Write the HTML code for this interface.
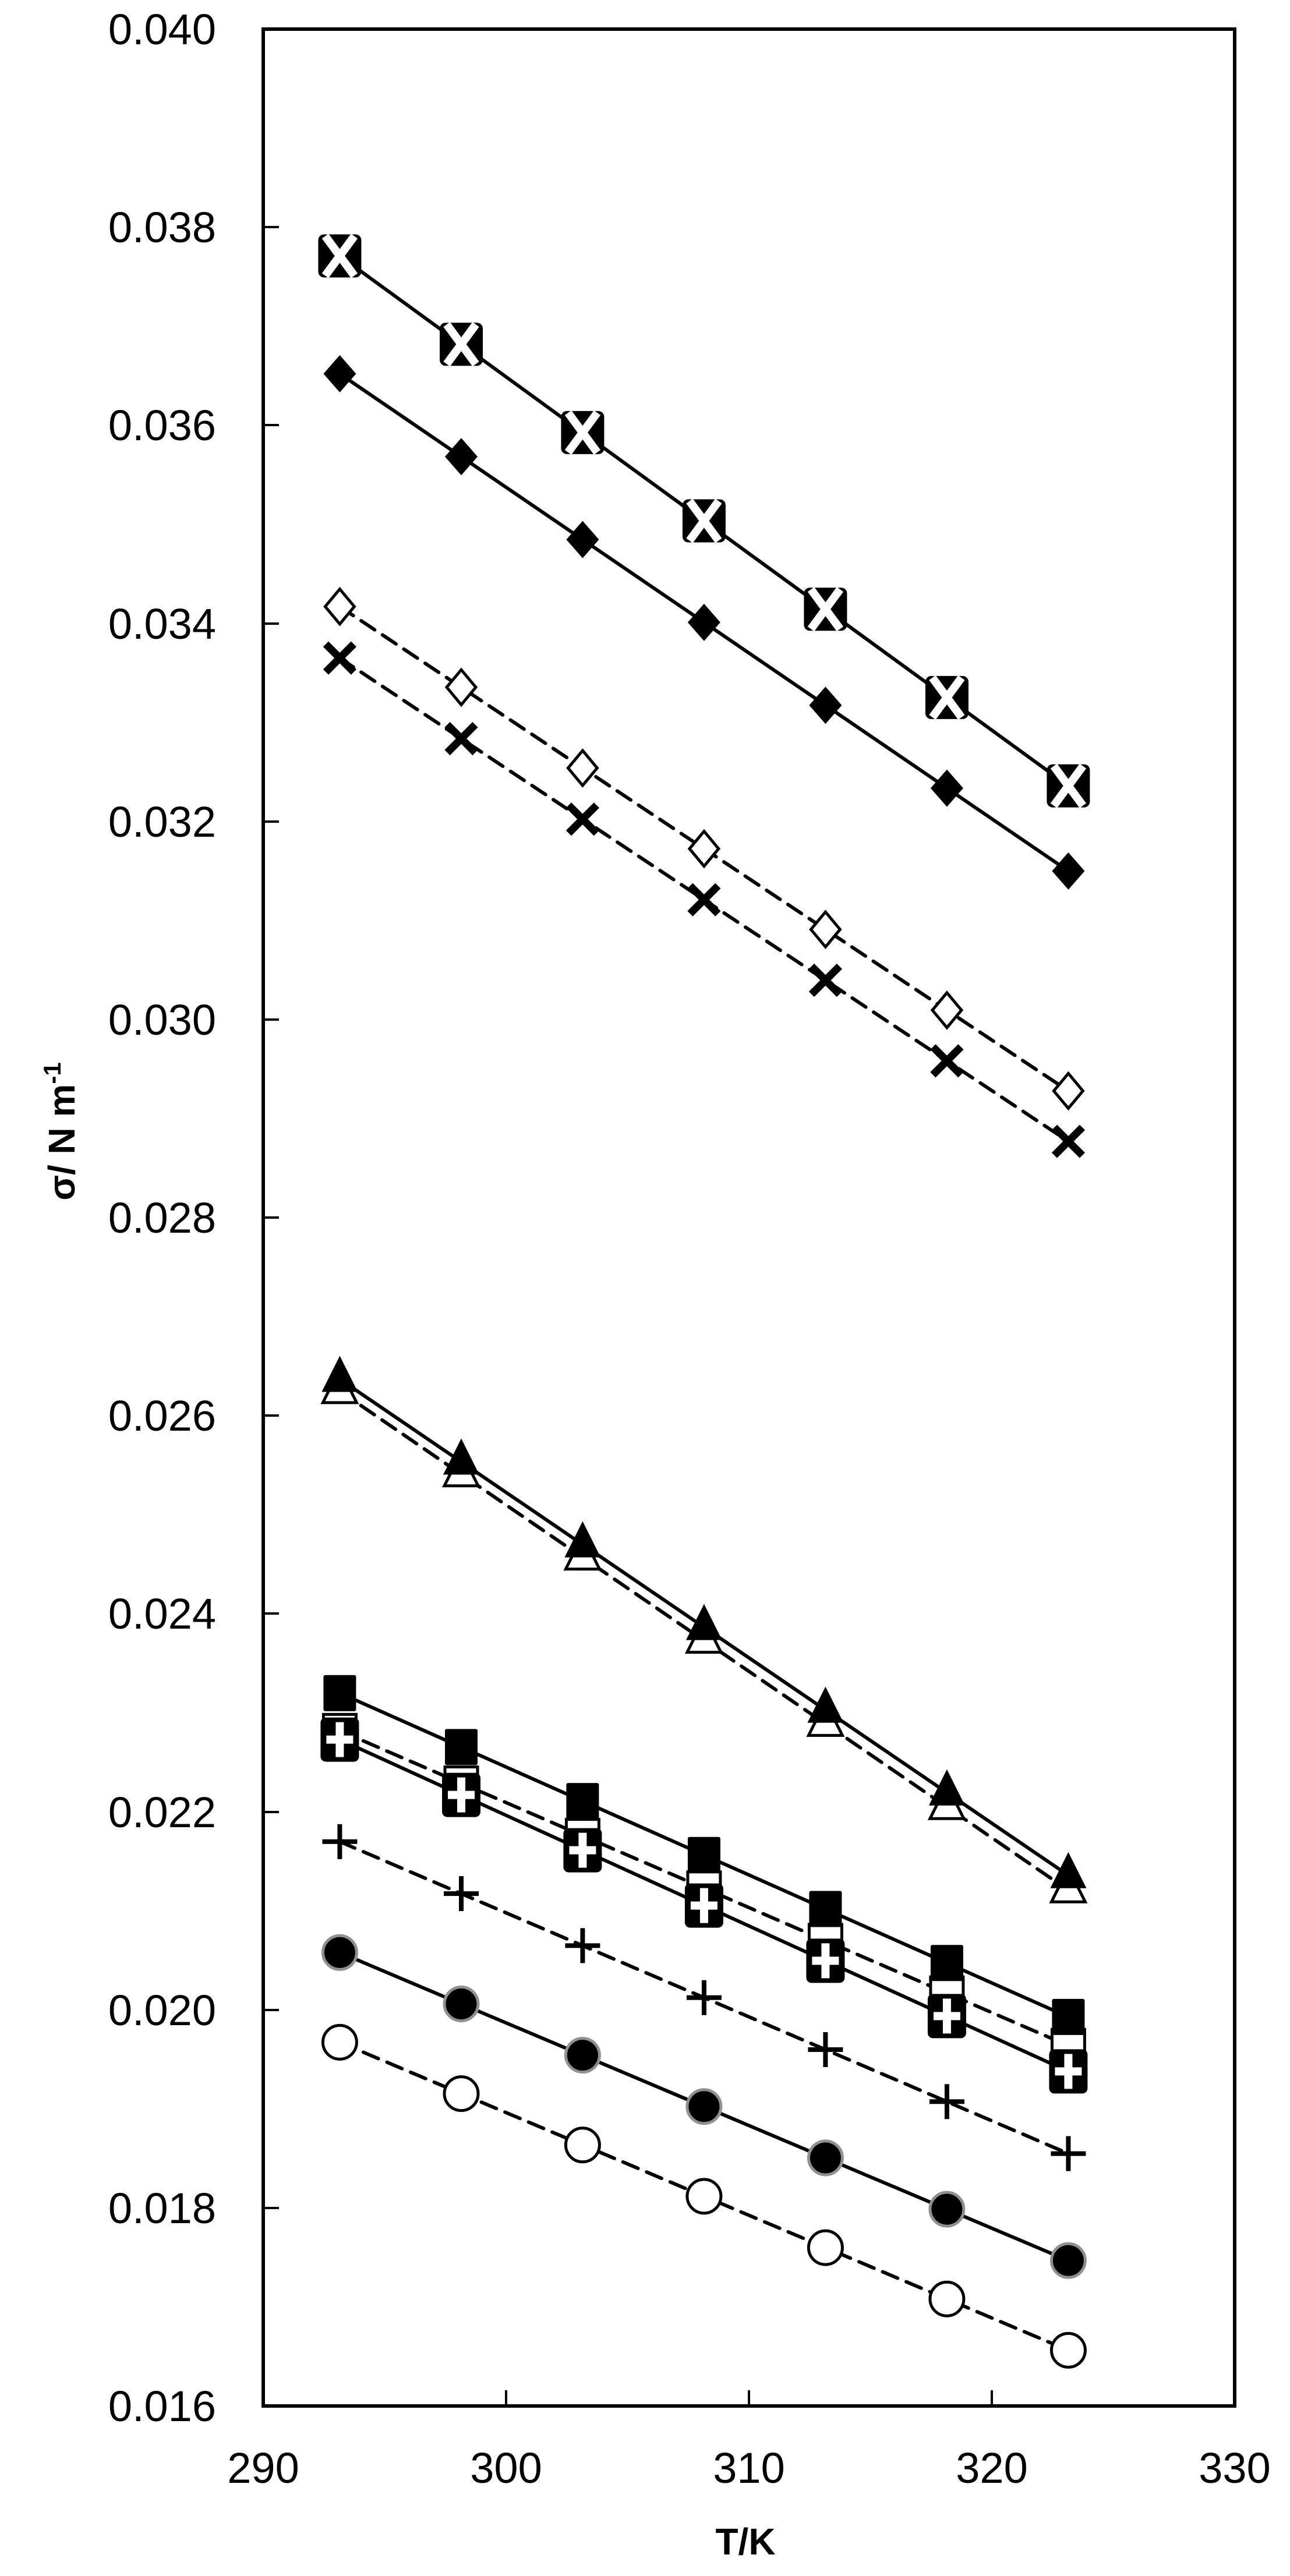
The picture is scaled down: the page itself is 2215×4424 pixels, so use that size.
<!DOCTYPE html>
<html><head><meta charset="utf-8"><style>
html,body{margin:0;padding:0;background:#fff;}
svg{display:block;}
text{font-family:"Liberation Sans",sans-serif;fill:#000;}
</style></head><body>
<svg width="2215" height="4424" viewBox="0 0 2215 4424" xmlns="http://www.w3.org/2000/svg">
<defs>
<g id="bx"><rect x="-37" y="-37" width="74" height="74" rx="10" fill="#000"/><line x1="-25" y1="-34" x2="25" y2="34" stroke="#fff" stroke-width="14"/><line x1="25" y1="-34" x2="-25" y2="34" stroke="#fff" stroke-width="14"/></g>
<g id="fd"><polygon points="0,-32 28,0 0,32 -28,0" fill="#000"/></g>
<g id="od"><polygon points="0,-30 25,0 0,30 -25,0" fill="#fff" stroke="#000" stroke-width="5"/></g>
<g id="xx"><line x1="-24" y1="-24" x2="24" y2="24" stroke="#000" stroke-width="13"/><line x1="24" y1="-24" x2="-24" y2="24" stroke="#000" stroke-width="13"/></g>
<g id="ft"><polygon points="0,-40 31,22 -31,22" fill="#000"/></g>
<g id="ot"><polygon points="0,-38 29,20 -29,20" fill="#fff" stroke="#000" stroke-width="5"/></g>
<g id="fs"><rect x="-28" y="-31" width="56" height="62" rx="3" fill="#000"/></g>
<g id="os"><rect x="-28" y="-28" width="56" height="56" fill="#fff" stroke="#000" stroke-width="5"/></g>
<g id="bp"><rect x="-33" y="-38" width="66" height="76" rx="9" fill="#000"/><rect x="-7" y="-30" width="14" height="60" fill="#fff"/><rect x="-23" y="-7" width="46" height="14" fill="#fff"/></g>
<g id="pl"><rect x="-4" y="-30" width="8" height="60" fill="#000"/><rect x="-30" y="-4" width="60" height="8" fill="#000"/></g>
<g id="fc"><circle r="29" fill="#000" stroke="#909090" stroke-width="5"/></g>
<g id="oc"><circle r="29" fill="#fff" stroke="#000" stroke-width="5"/></g>
</defs>
<!-- axes -->
<rect x="452" y="50" width="1668" height="4082" fill="none" stroke="#000" stroke-width="6"/>
<g stroke="#000" stroke-width="4">
<line x1="452" y1="390" x2="479" y2="390"/><line x1="452" y1="730" x2="479" y2="730"/><line x1="452" y1="1071" x2="479" y2="1071"/><line x1="452" y1="1411" x2="479" y2="1411"/><line x1="452" y1="1751" x2="479" y2="1751"/><line x1="452" y1="2091" x2="479" y2="2091"/><line x1="452" y1="2431" x2="479" y2="2431"/><line x1="452" y1="2771" x2="479" y2="2771"/><line x1="452" y1="3112" x2="479" y2="3112"/><line x1="452" y1="3452" x2="479" y2="3452"/><line x1="452" y1="3792" x2="479" y2="3792"/>
<line x1="869" y1="4132" x2="869" y2="4105"/><line x1="1286" y1="4132" x2="1286" y2="4105"/><line x1="1703" y1="4132" x2="1703" y2="4105"/>
</g>
<g font-size="74" text-anchor="end">
<text x="371" y="76">0.040</text><text x="371" y="416">0.038</text><text x="371" y="756">0.036</text><text x="371" y="1097">0.034</text><text x="371" y="1437">0.032</text><text x="371" y="1777">0.030</text><text x="371" y="2117">0.028</text><text x="371" y="2457">0.026</text><text x="371" y="2797">0.024</text><text x="371" y="3138">0.022</text><text x="371" y="3478">0.020</text><text x="371" y="3818">0.018</text><text x="371" y="4158">0.016</text>
</g>
<g font-size="74" text-anchor="middle">
<text x="452" y="4264">290</text><text x="869" y="4264">300</text><text x="1286" y="4264">310</text><text x="1703" y="4264">320</text><text x="2120" y="4264">330</text>
</g>
<text x="1280" y="4387" font-size="64" font-weight="bold" text-anchor="middle">T/K</text>
<text transform="translate(128,1943) rotate(-90)" font-size="64" font-weight="bold" text-anchor="middle">σ/ N m<tspan font-size="42" dy="-24">-1</tspan></text>
<!-- lines -->
<g fill="none" stroke="#000" stroke-width="6">
<polyline points="583.4,439.5 1834.4,1349.6"/>
<polyline points="583.4,641.9 1834.4,1495.9"/>
<polyline points="583.4,2368.5 1834.4,3220.7"/>
<polyline points="583.4,2907.7 1834.4,3463.9"/>
<polyline points="583.4,2987.6 1834.4,3557.4"/>
<polyline points="583.4,3353.3 1834.4,3882.3"/>
</g>
<g fill="none" stroke="#000" stroke-width="6" stroke-dasharray="28 16" stroke-linecap="round">
<polyline points="583.4,1041.7 1834.4,1873.5"/>
<polyline points="583.4,1130.1 1834.4,1960.2"/>
<polyline points="583.4,2388.9 1834.4,3246.2"/>
<polyline points="583.4,2972.3 1834.4,3513.2"/>
<polyline points="583.4,3162.8 1834.4,3698.6"/>
<polyline points="583.4,3507.4 1834.4,4036.4"/>
</g>
<!-- markers -->
<g>
<use href="#bx" x="583.4" y="439.5"/><use href="#bx" x="792" y="591.2"/><use href="#bx" x="1000.4" y="742.9"/><use href="#bx" x="1208.9" y="894.5"/><use href="#bx" x="1417.4" y="1046.2"/><use href="#bx" x="1625.9" y="1197.9"/><use href="#bx" x="1834.4" y="1349.6"/>
<use href="#fd" x="583.4" y="641.9"/><use href="#fd" x="792" y="784.2"/><use href="#fd" x="1000.4" y="926.6"/><use href="#fd" x="1208.9" y="1068.9"/><use href="#fd" x="1417.4" y="1211.2"/><use href="#fd" x="1625.9" y="1353.6"/><use href="#fd" x="1834.4" y="1495.9"/>
<use href="#od" x="583.4" y="1041.7"/><use href="#od" x="792" y="1180.3"/><use href="#od" x="1000.4" y="1319"/><use href="#od" x="1208.9" y="1457.6"/><use href="#od" x="1417.4" y="1596.2"/><use href="#od" x="1625.9" y="1734.9"/><use href="#od" x="1834.4" y="1873.5"/>
<use href="#xx" x="583.4" y="1130.1"/><use href="#xx" x="792" y="1268.5"/><use href="#xx" x="1000.4" y="1406.8"/><use href="#xx" x="1208.9" y="1545.2"/><use href="#xx" x="1417.4" y="1683.5"/><use href="#xx" x="1625.9" y="1821.9"/><use href="#xx" x="1834.4" y="1960.2"/>
<use href="#ot" x="583.4" y="2388.9"/><use href="#ot" x="792" y="2531.8"/><use href="#ot" x="1000.4" y="2674.7"/><use href="#ot" x="1208.9" y="2817.6"/><use href="#ot" x="1417.4" y="2960.4"/><use href="#ot" x="1625.9" y="3103.3"/><use href="#ot" x="1834.4" y="3246.2"/>
<use href="#ft" x="583.4" y="2368.5"/><use href="#ft" x="792" y="2510.5"/><use href="#ft" x="1000.4" y="2652.6"/><use href="#ft" x="1208.9" y="2794.6"/><use href="#ft" x="1417.4" y="2936.6"/><use href="#ft" x="1625.9" y="3078.7"/><use href="#ft" x="1834.4" y="3220.7"/>
<use href="#os" x="583.4" y="2972.3"/><use href="#os" x="792" y="3062.5"/><use href="#os" x="1000.4" y="3152.6"/><use href="#os" x="1208.9" y="3242.8"/><use href="#os" x="1417.4" y="3332.9"/><use href="#os" x="1625.9" y="3423.1"/><use href="#os" x="1834.4" y="3513.2"/>
<use href="#bp" x="583.4" y="2987.6"/><use href="#bp" x="792" y="3082.6"/><use href="#bp" x="1000.4" y="3177.6"/><use href="#bp" x="1208.9" y="3272.6"/><use href="#bp" x="1417.4" y="3367.4"/><use href="#bp" x="1625.9" y="3462.4"/><use href="#bp" x="1834.4" y="3557.4"/>
<use href="#fs" x="583.4" y="2907.7"/><use href="#fs" x="792" y="3000.4"/><use href="#fs" x="1000.4" y="3093.1"/><use href="#fs" x="1208.9" y="3185.8"/><use href="#fs" x="1417.4" y="3278.5"/><use href="#fs" x="1625.9" y="3371.2"/><use href="#fs" x="1834.4" y="3463.9"/>
<use href="#pl" x="583.4" y="3162.8"/><use href="#pl" x="792" y="3252.1"/><use href="#pl" x="1000.4" y="3341.4"/><use href="#pl" x="1208.9" y="3430.7"/><use href="#pl" x="1417.4" y="3520"/><use href="#pl" x="1625.9" y="3609.3"/><use href="#pl" x="1834.4" y="3698.6"/>
<use href="#fc" x="583.4" y="3353.3"/><use href="#fc" x="792" y="3441.5"/><use href="#fc" x="1000.4" y="3529.6"/><use href="#fc" x="1208.9" y="3617.8"/><use href="#fc" x="1417.4" y="3706"/><use href="#fc" x="1625.9" y="3794.1"/><use href="#fc" x="1834.4" y="3882.3"/>
<use href="#oc" x="583.4" y="3507.4"/><use href="#oc" x="792" y="3595.6"/><use href="#oc" x="1000.4" y="3683.8"/><use href="#oc" x="1208.9" y="3771.9"/><use href="#oc" x="1417.4" y="3860.1"/><use href="#oc" x="1625.9" y="3948.2"/><use href="#oc" x="1834.4" y="4036.4"/>
</g>
</svg>
</body></html>
